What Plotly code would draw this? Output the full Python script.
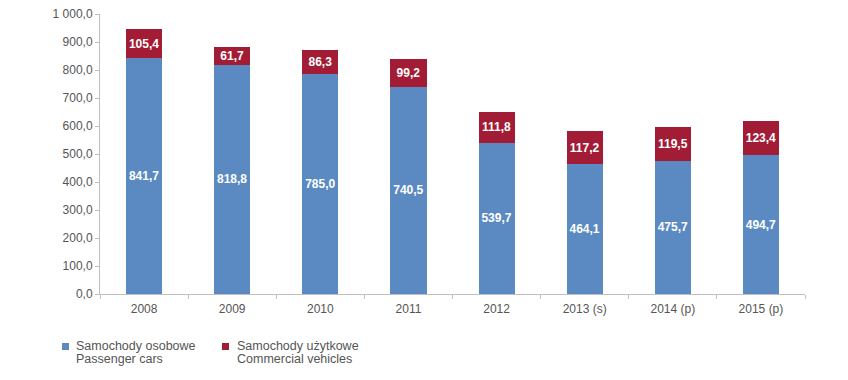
import plotly.graph_objects as go

categories = ["2008", "2009", "2010", "2011", "2012", "2013 (s)", "2014 (p)", "2015 (p)"]
passenger = [841.7, 818.8, 785.0, 740.5, 539.7, 464.1, 475.7, 494.7]
commercial = [105.4, 61.7, 86.3, 99.2, 111.8, 117.2, 119.5, 123.4]
names_pl = ["Samochody osobowe", "Samochody użytkowe"]
names_en = ["Passenger cars", "Commercial vehicles"]

BLUE = "#5a8ac1"
RED = "#a11c34"
FONT = "Liberation Sans, Arial, Helvetica, sans-serif"
GREY = "#555555"
AXIS = "#bfbfbf"

fig = go.Figure()
for vals, color, pl, en in [(passenger, BLUE, names_pl[0], names_en[0]),
                            (commercial, RED, names_pl[1], names_en[1])]:
    fig.add_trace(go.Bar(
        x=categories, y=vals, name=f"{pl} / {en}",
        marker=dict(color=color, line=dict(width=0)),
        texttemplate="<b>%{y:.1f}</b>", textposition="inside",
        insidetextanchor="middle", textangle=0, constraintext="none",
        textfont=dict(color="white", size=12, family=FONT),
        showlegend=False,
    ))

# page body has an 8px default margin -> figure is 840x372, offset by 8px
fig.update_layout(
    barmode="stack", bargap=0.59,
    width=840, height=372,
    margin=dict(l=92, r=43, t=6, b=86, autoexpand=False),
    paper_bgcolor="white", plot_bgcolor="white",
    separators=", ",
    font=dict(family=FONT, size=12, color=GREY),
)
fig.update_yaxes(range=[0, 1000], dtick=100, tickformat=",.1f",
                 showgrid=False, showline=True, linecolor=AXIS, linewidth=1,
                 ticks="outside", ticklen=4, tickcolor=AXIS, zeroline=False,
                 ticklabeloverflow="allow",
                 tickfont=dict(size=12, color=GREY))
fig.update_xaxes(showgrid=False, showline=True, linecolor=AXIS, linewidth=1,
                 ticks="outside", ticklen=4, tickcolor=AXIS, tickson="boundaries",
                 ticklabelstandoff=4,
                 tickfont=dict(size=12, color=GREY))

# legend (custom); coordinates given in page pixels of the reference
def px_x(p):
    return (p - 100) / 705

def px_y(p):
    return (294 - p) / 280

for sx, tx, color, pl, en in [(62, 74, BLUE, names_pl[0], names_en[0]),
                              (222, 235, RED, names_pl[1], names_en[1])]:
    fig.add_shape(type="rect", xref="paper", yref="paper",
                  x0=px_x(sx), x1=px_x(sx + 7), y0=px_y(350), y1=px_y(343),
                  fillcolor=color, line=dict(width=0))
    for txt, ty in [(pl, 346), (en, 359)]:
        fig.add_annotation(xref="paper", yref="paper", x=px_x(tx), y=px_y(ty),
                           xanchor="left", yanchor="middle", align="left",
                           showarrow=False, text=txt,
                           font=dict(size=12.5, color=GREY, family=FONT))

fig.write_html("out.html")
